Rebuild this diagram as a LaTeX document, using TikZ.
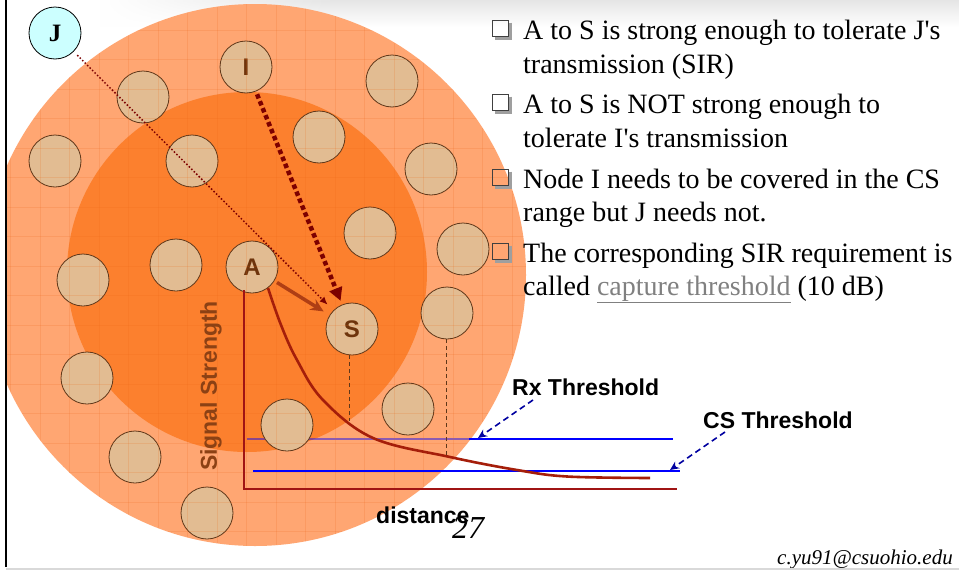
\documentclass[tikz,border=0pt]{standalone}
\usepackage{fontspec}
\setmainfont{Liberation Serif}
\setsansfont{Liberation Sans}
\usetikzlibrary{arrows.meta,fadings}
\definecolor{outerc}{RGB}{255,166,114}
\definecolor{innerc}{RGB}{252,128,46}
\definecolor{nodec}{RGB}{226,188,146}
\definecolor{nodeline}{RGB}{95,55,25}
\definecolor{lab}{RGB}{110,52,12}
\definecolor{sigc}{RGB}{140,65,20}
\definecolor{axisc}{RGB}{160,20,20}
\definecolor{curvec}{RGB}{165,30,10}
\definecolor{darkred}{RGB}{125,0,0}
\definecolor{arrowA}{RGB}{175,62,20}
\definecolor{jfill}{RGB}{204,255,255}
\definecolor{dblue}{RGB}{0,0,160}
\definecolor{linkgray}{RGB}{128,128,128}
\definecolor{gridc}{RGB}{235,100,20}
\tikzfading[name=leftfade, left color=transparent!100, right color=transparent!0]
\begin{document}
\begin{tikzpicture}[x=1pt,y=-1pt,
  nd/.style={circle, draw=nodeline, line width=0.8pt, fill=nodec, minimum size=52pt, inner sep=0pt},
  ndlab/.style={nd, font=\sffamily\bfseries\fontsize{24}{24}\selectfont, text=lab},
  bul/.style={anchor=base west, inner sep=0pt, font=\fontsize{28}{33}\selectfont},
  sanslab/.style={anchor=base west, inner sep=0pt, font=\sffamily\bfseries\fontsize{23}{23}\selectfont},
  bulbox/.pic={
    \draw[line width=3pt, gray!75] (18,2.5) -- (18,18) -- (2.5,18);
    \draw[line width=0.8pt, gray!50!black] (0,0) rectangle (16,16);
  },
  vdash/.style={draw=nodeline, line width=0.7pt, dash pattern=on 4pt off 3pt},
  thr/.style={line width=2.2pt, blue},
  thrarrow/.style={draw=dblue, line width=1.6pt, dash pattern=on 6pt off 4pt, -{Stealth[length=9pt,width=8pt]}},
]
\useasboundingbox (0,0) rectangle (959,573);
\fill[white] (0,0) rectangle (959,573);
% top gray brush
\shade[top color=gray!20, middle color=gray!50, bottom color=white, path fading=leftfade] (100,0) rectangle (330,27);
\shade[top color=gray!20, middle color=gray!50, bottom color=white] (330,0) rectangle (959,27);
% ranges
\begin{scope}
  \clip (7,0) rectangle (959,573);
  \fill[outerc] (255,275) circle (271pt);
  \fill[innerc] (247,272) circle (180pt);
\end{scope}
% Rx threshold line (faint part inside the range)
\coordinate (rxl) at (247,439);
\coordinate (rxm) at (469,439);
\coordinate (rxr) at (673,439);
\draw[line width=1.8pt, blue, opacity=0.45] (rxl) -- (rxm);
% nodes
\node[nd, fill=jfill, draw=black, font=\bfseries\fontsize{25}{25}\selectfont] (J) at (55,33) {J};
\node[ndlab] (I) at (246,67) {I};
\node[ndlab] (A) at (252,267) {A};
\node[ndlab] (S) at (352,329) {S};
\node[nd] (n1) at (143,97) {};
\node[nd] (n2) at (55,161) {};
\node[nd] (n3) at (192,161) {};
\node[nd] (n4) at (319,137) {};
\node[nd] (n5) at (392,81) {};
\node[nd] (n6) at (431,169) {};
\node[nd] (n7) at (370,233) {};
\node[nd] (n8) at (463,249) {};
\node[nd] (n9) at (447,313) {};
\node[nd] (n10) at (176,265) {};
\node[nd] (n11) at (83,280) {};
\node[nd] (n12) at (87,378) {};
\node[nd] (n13) at (135,457) {};
\node[nd] (n14) at (207,513) {};
\node[nd] (n15) at (287,425) {};
\node[nd] (n16) at (408,409) {};
% faint grid texture of the range
\begin{scope}
  \clip (7,0) rectangle (959,573);
  \clip (255,275) circle (271pt);
  \foreach \gx in {10.5,40,...,530} \draw[gridc, line width=1pt, opacity=0.17] (\gx,0) -- (\gx,560);
  \foreach \gy in {0.5,30,...,560} \draw[gridc, line width=1pt, opacity=0.17] (0,\gy) -- (540,\gy);
\end{scope}
% threshold lines
\draw[thr] (rxm) -- (rxr);
\coordinate (csl) at (253,471);
\coordinate (csr) at (680,471);
\draw[thr] (csl) -- (csr);
% axes
\coordinate (ax0) at (244,290);
\coordinate (axo) at (244,489);
\coordinate (axe) at (677,489);
\draw[axisc, line width=2.6pt] (ax0) -- (axo) -- (axe);
% signal curve
\draw[curvec, line width=2.6pt] plot[smooth, tension=0.6] coordinates {(268,288) (281,325) (297,360) (323,400) (373,438) (450,457) (517,470) (567,476.5) (650,478)};
% dashed verticals
\coordinate (c1) at (349,421);
\coordinate (c2) at (446,457);
\draw[vdash] (c1 |- S.south) -- (c1);
\draw[vdash] (c2 |- n9.south) -- (c2);
% interference / signal arrows
\draw[darkred, line width=4.5pt, dash pattern=on 4.5pt off 3pt, shorten <=3pt, shorten >=4pt, -{Triangle[length=13pt,width=13pt]}] (I) -- (S);
\draw[darkred, line width=1.5pt, dash pattern=on 1.5pt off 2pt, shorten <=5pt, shorten >=8pt, -{Latex[length=8pt,width=7pt]}] (J) -- (S);
\draw[arrowA, line width=3.5pt, shorten <=3pt, shorten >=7pt, -{Stealth[length=13pt,width=12pt]}] (A) -- (S);
% axis labels
\node[rotate=90, inner sep=0pt, font=\sffamily\bfseries\fontsize{23}{23}\selectfont, text=sigc] (sig) at (211,386) {Signal Strength};
\node[sanslab] (dist) at (376,523) {distance};
\node[sanslab] (rx) at (512,395) {Rx Threshold};
\node[sanslab] (cs) at (703,428) {CS Threshold};
\coordinate (rxs) at (533,400);
\coordinate (rxt) at (478,438);
\coordinate (css) at (725,432);
\coordinate (cst) at (670,470);
\draw[thrarrow] (rxs) -- (rxt);
\draw[thrarrow] (css) -- (cst);
% page number and footer
\node[anchor=base west, inner sep=0pt, font=\itshape\fontsize{32}{32}\selectfont] (pg) at (452,538) {27};
\node[anchor=base east, inner sep=0pt, font=\itshape\fontsize{21}{21}\selectfont] (mail) at (953,564) {c.yu91@csuohio.edu};
% bullets
\pic at (492,20) {bulbox};
\pic at (492,94) {bulbox};
\pic at (492,169) {bulbox};
\pic at (492,243) {bulbox};
\node[bul] (t1a) at (523,39) {A to S is strong enough to tolerate J\textquotesingle s};
\node[bul] (t1b) at (523,73) {transmission (SIR)};
\node[bul] (t2a) at (523,113) {A to S is NOT strong enough to};
\node[bul] (t2b) at (523,147) {tolerate I\textquotesingle s transmission};
\node[bul] (t3a) at (523,188) {Node I needs to be covered in the CS};
\node[bul] (t3b) at (523,221) {range but J needs not.};
\node[bul] (t4a) at (523,262) {The corresponding SIR requirement is};
\node[bul] (t4b) at (523,295) {called \textcolor{linkgray}{\underline{capture threshold}} (10 dB)};
% frame lines
\draw[black, line width=2.2pt] (6,0) -- (6,567);
\draw[gray!30, line width=2pt] (6,569) -- (959,569);
\end{tikzpicture}
\end{document}
